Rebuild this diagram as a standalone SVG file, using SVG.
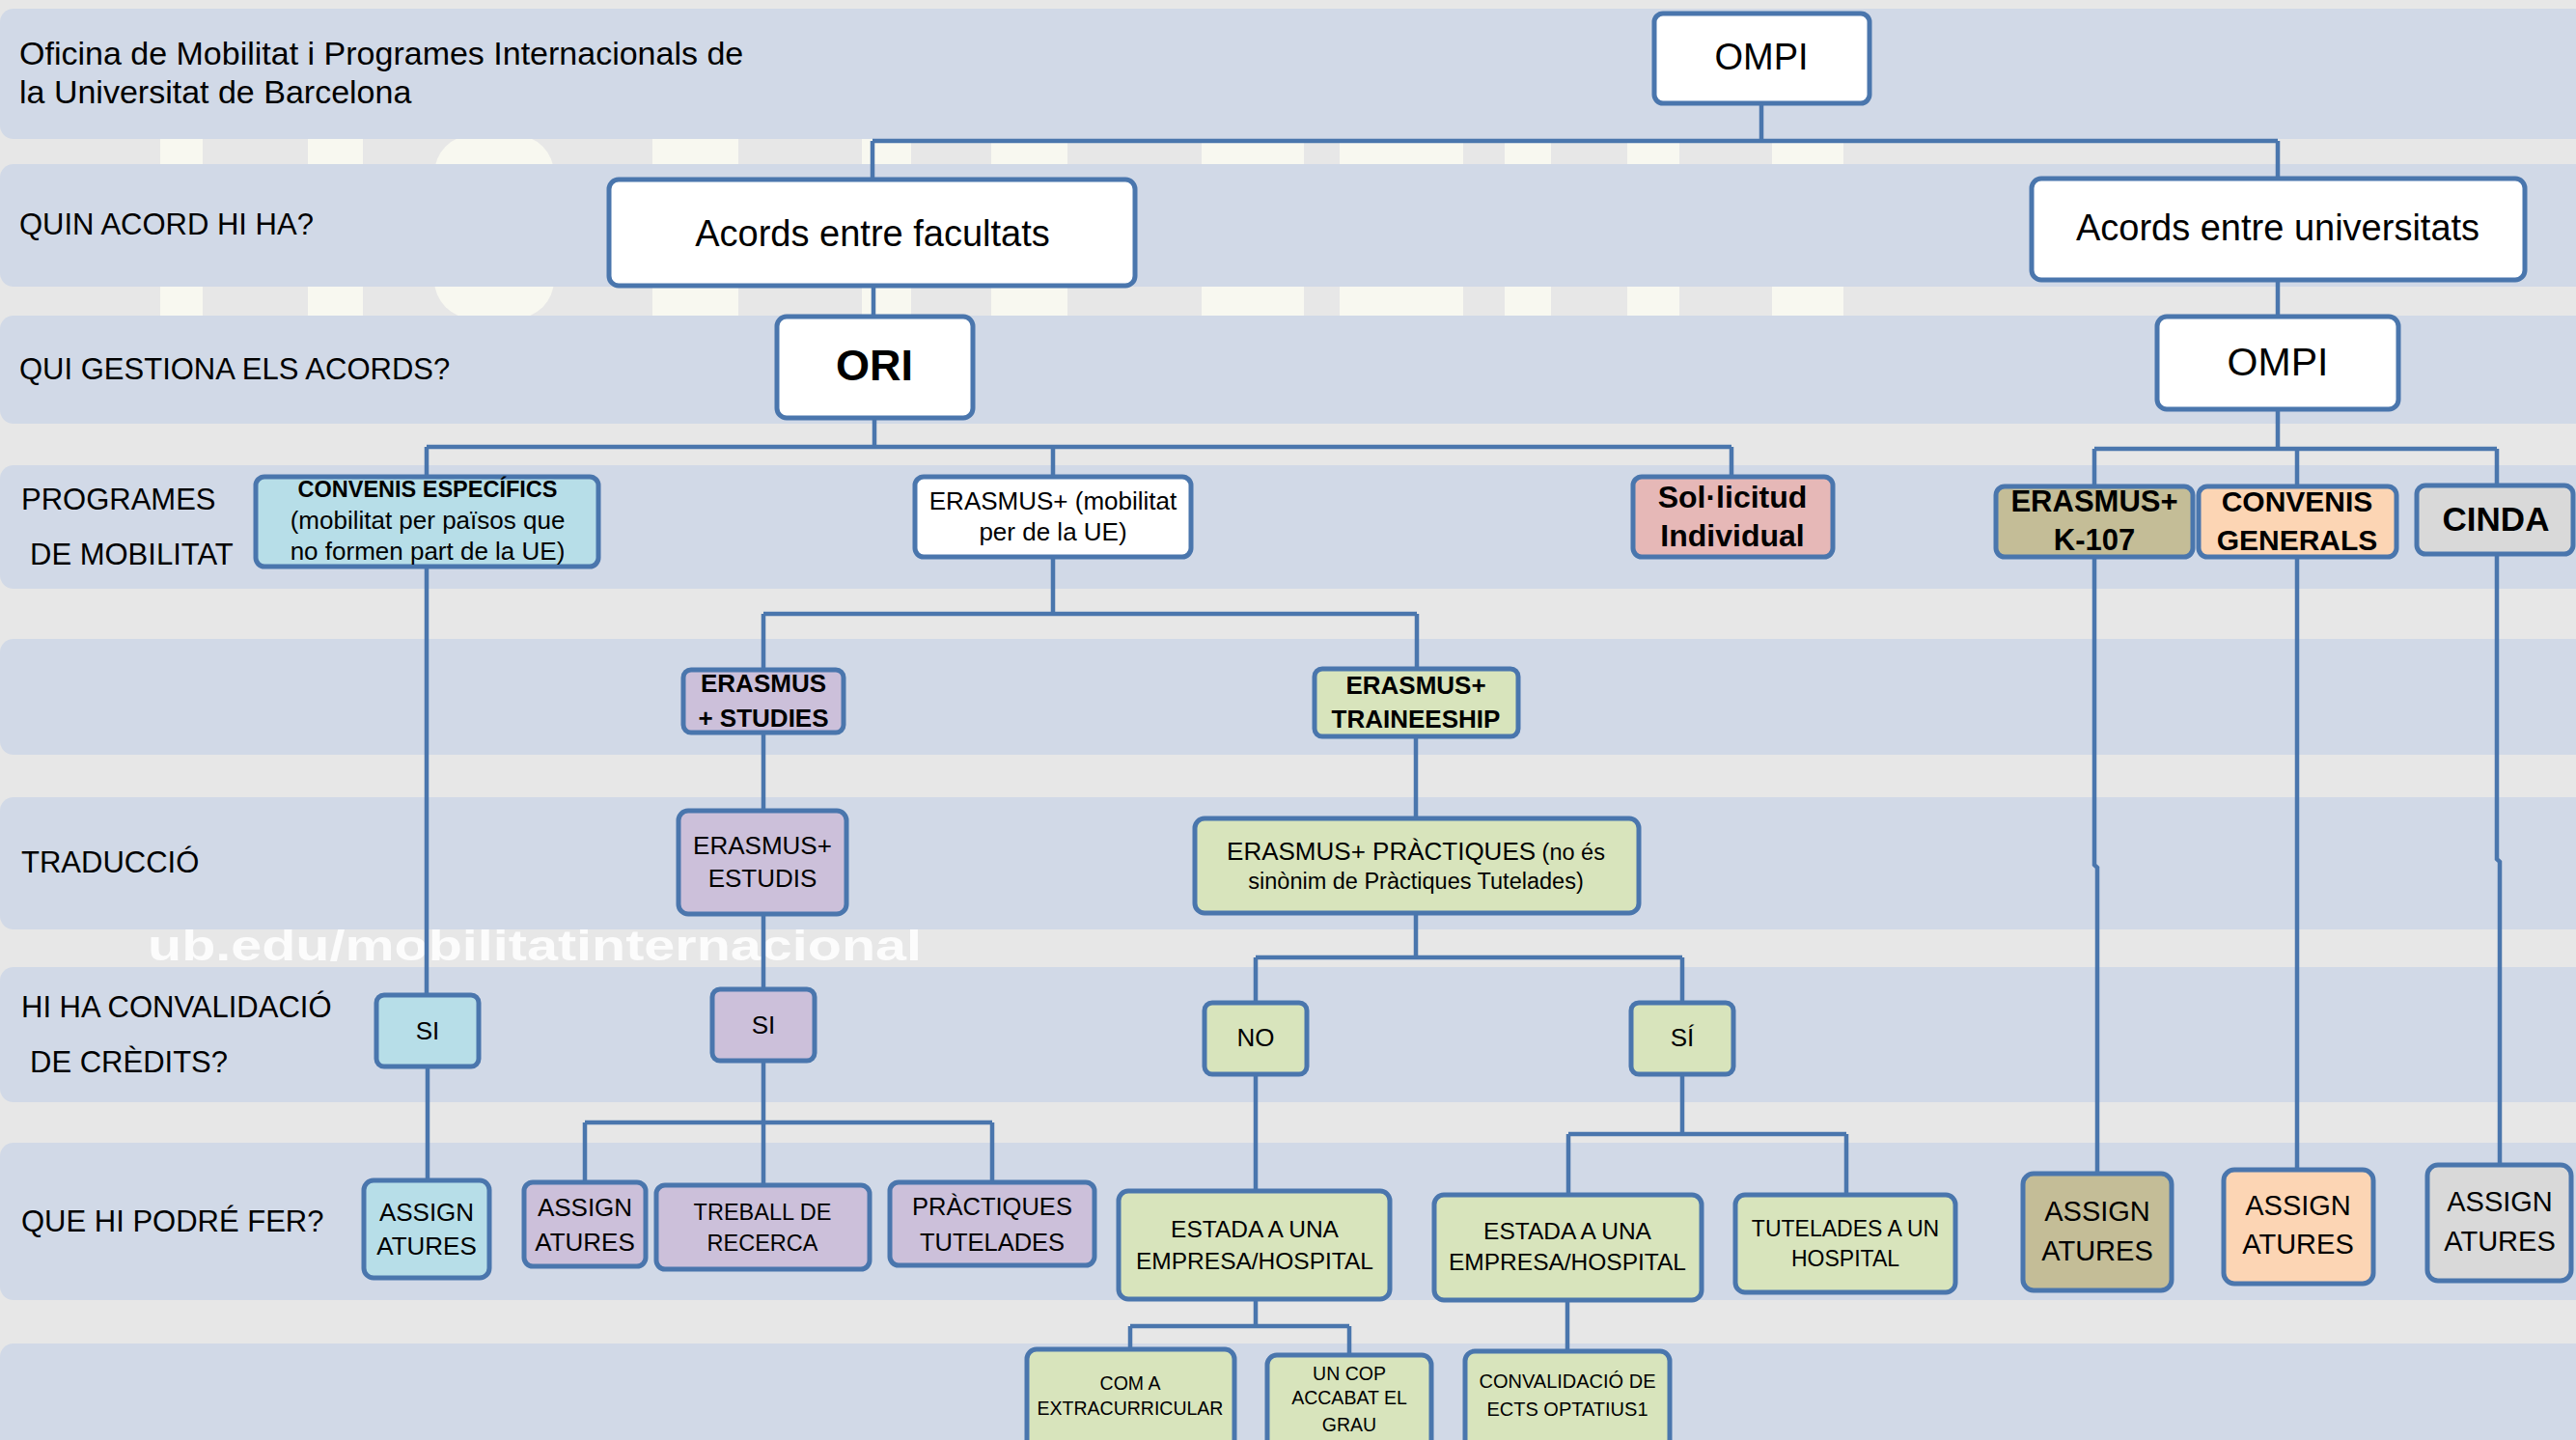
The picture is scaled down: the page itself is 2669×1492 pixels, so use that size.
<svg xmlns="http://www.w3.org/2000/svg" width="2669" height="1492" viewBox="0 0 2669 1492">
<style>
.band{fill:#D1D9E7}
.wm{fill:#F8F8F0}
.n rect{stroke:#4A76AD;stroke-width:5}
.c path{stroke:#4A76AD;stroke-width:4.5;fill:none}
text{font-family:'Liberation Sans',Arial,sans-serif;fill:#000}
.t{text-anchor:middle}
.b{font-weight:bold}
.lbl{font-size:31px}
.w{fill:#FFFFFF}.bl{fill:#B7DEE8}.pu{fill:#CCC0DA}.gr{fill:#D8E4BC}.pk{fill:#E6B8B7}.ol{fill:#C4BD97}.pe{fill:#FCD5B4}.gy{fill:#D9D9D9}
</style>
<rect x="0" y="0" width="2669" height="1492" fill="#E7E7E7"/>
<g id="watermark">
<rect class="wm" x="166" y="140" width="44" height="190"/>
<rect class="wm" x="319" y="140" width="57" height="190"/>
<rect class="wm" x="450" y="140" width="124" height="190" rx="40"/>
<rect class="wm" x="676" y="140" width="89" height="190"/>
<rect class="wm" x="893" y="140" width="51" height="190"/>
<rect class="wm" x="1027" y="140" width="79" height="190"/>
<rect class="wm" x="1245" y="140" width="106" height="190"/>
<rect class="wm" x="1388" y="140" width="128" height="190"/>
<rect class="wm" x="1559" y="140" width="48" height="190"/>
<rect class="wm" x="1686" y="140" width="54" height="190"/>
<rect class="wm" x="1836" y="140" width="74" height="190"/>
</g>
<g id="bands">
<rect class="band" x="0" y="9" width="2700" height="135" rx="14"/>
<rect class="band" x="0" y="170" width="2700" height="127" rx="14"/>
<rect class="band" x="0" y="327" width="2700" height="112" rx="14"/>
<rect class="band" x="0" y="482" width="2700" height="128" rx="14"/>
<rect class="band" x="0" y="662" width="2700" height="120" rx="14"/>
<rect class="band" x="0" y="826" width="2700" height="137" rx="14"/>
<rect class="band" x="0" y="1002" width="2700" height="140" rx="14"/>
<rect class="band" x="0" y="1184" width="2700" height="163" rx="14"/>
<rect class="band" x="0" y="1392" width="2700" height="120" rx="14"/>
</g>
<text x="153" y="995" font-size="44" font-weight="bold" fill="#FFFFFF" fill-opacity="0.85" textLength="802" lengthAdjust="spacingAndGlyphs" style="fill:#FFFFFF">ub.edu/mobilitatinternacional</text>
<g id="labels">
<text x="20" y="67" font-size="34">Oficina de Mobilitat i Programes Internacionals de</text>
<text x="20" y="107" font-size="34">la Universitat de Barcelona</text>
<text class="lbl" x="20" y="243">QUIN ACORD HI HA?</text>
<text class="lbl" x="20" y="393">QUI GESTIONA ELS ACORDS?</text>
<text class="lbl" x="22" y="528">PROGRAMES</text>
<text class="lbl" x="31" y="585">DE MOBILITAT</text>
<text class="lbl" x="22" y="904">TRADUCCIÓ</text>
<text class="lbl" x="22" y="1054">HI HA CONVALIDACIÓ</text>
<text class="lbl" x="31" y="1111">DE CRÈDITS?</text>
<text class="lbl" x="22" y="1276">QUE HI PODRÉ FER?</text>
</g>
<g class="c" id="connectors">
<path d="M1825,107V146M904,146H2360M904,146V186M2360,146V185"/>
<path d="M905,296V328"/>
<path d="M2360,290V328"/>
<path d="M906,433V463M442,463H1794M442,463V494M1091,463V494M1794,463V494"/>
<path d="M442,587V1031"/>
<path d="M443,1105V1223"/>
<path d="M1091,577V636M791,636H1468M791,636V694M1468,636V693"/>
<path d="M791,759V840"/>
<path d="M791,947V1025"/>
<path d="M791,1099V1163M606,1163H1028M606,1163V1225M791,1163V1228M1028,1163V1225"/>
<path d="M1467,763V848"/>
<path d="M1467,946V992M1301,992H1743M1301,992V1039M1743,992V1039"/>
<path d="M1301,1113V1234"/>
<path d="M1743,1113V1175M1625,1175H1913M1625,1175V1238M1913,1175V1238"/>
<path d="M1301,1346V1374M1171,1374H1398M1171,1374V1398M1398,1374V1404"/>
<path d="M1624,1347V1400"/>
<path d="M2360,424V465M2170,465H2587M2170,465V504M2380,465V504M2587,465V503"/>
<path d="M2170,577V896L2173,899V1216"/>
<path d="M2380,577V1212"/>
<path d="M2587,574V890L2590,893V1207"/>
</g>
<g class="n" id="n-ompi"><rect class="w" x="1714" y="14" width="223" height="93" rx="9"/><text class="t" x="1825" y="72" font-size="38">OMPI</text></g>
<g class="n" id="n-facultats"><rect class="w" x="631" y="186" width="545" height="110" rx="10"/><text class="t" x="904" y="255" font-size="38">Acords entre facultats</text></g>
<g class="n" id="n-universitats"><rect class="w" x="2105" y="185" width="511" height="105" rx="10"/><text class="t" x="2360" y="249" font-size="38">Acords entre universitats</text></g>
<g class="n" id="n-ori"><rect class="w" x="805" y="328" width="203" height="105" rx="10"/><text class="t b" x="906" y="394" font-size="45">ORI</text></g>
<g class="n" id="n-ompi2"><rect class="w" x="2235" y="328" width="250" height="96" rx="10"/><text class="t" x="2360" y="389" font-size="41">OMPI</text></g>
<g class="n" id="n-convenis-especifics"><rect class="bl" x="265" y="494" width="355" height="93" rx="9"/>
<text class="t b" x="443" y="515" font-size="23.5">CONVENIS ESPECÍFICS</text>
<text class="t" x="443" y="548" font-size="26">(mobilitat per països que</text>
<text class="t" x="443" y="580" font-size="26">no formen part de la UE)</text></g>
<g class="n" id="n-erasmus-ue"><rect class="w" x="948" y="494" width="286" height="83" rx="9"/>
<text class="t" x="1091" y="528" font-size="26">ERASMUS+ (mobilitat</text>
<text class="t" x="1091" y="560" font-size="26">per de la UE)</text></g>
<g class="n" id="n-sollicitud"><rect class="pk" x="1692" y="494" width="207" height="83" rx="9"/>
<text class="t b" x="1795" y="526" font-size="32">Sol·licitud</text>
<text class="t b" x="1795" y="566" font-size="32">Individual</text></g>
<g class="n" id="n-k107"><rect class="ol" x="2068" y="504" width="204" height="73" rx="9"/>
<text class="t b" x="2170" y="530" font-size="31">ERASMUS+</text>
<text class="t b" x="2170" y="570" font-size="31">K-107</text></g>
<g class="n" id="n-convenis-generals"><rect class="pe" x="2278" y="504" width="205" height="73" rx="9"/>
<text class="t b" x="2380" y="530" font-size="30">CONVENIS</text>
<text class="t b" x="2380" y="570" font-size="30">GENERALS</text></g>
<g class="n" id="n-cinda"><rect class="gy" x="2504" y="503" width="162" height="71" rx="9"/>
<text class="t b" x="2586" y="550" font-size="35">CINDA</text></g>
<g class="n" id="n-studies"><rect class="pu" x="708" y="694" width="166" height="65" rx="8"/>
<text class="t b" x="791" y="717" font-size="26">ERASMUS</text>
<text class="t b" x="791" y="753" font-size="26">+ STUDIES</text></g>
<g class="n" id="n-traineeship"><rect class="gr" x="1362" y="693" width="211" height="70" rx="8"/>
<text class="t b" x="1467" y="719" font-size="26">ERASMUS+</text>
<text class="t b" x="1467" y="754" font-size="26">TRAINEESHIP</text></g>
<g class="n" id="n-estudis"><rect class="pu" x="703" y="840" width="174" height="107" rx="10"/>
<text class="t" x="790" y="885" font-size="26">ERASMUS+</text>
<text class="t" x="790" y="919" font-size="26">ESTUDIS</text></g>
<g class="n" id="n-practiques"><rect class="gr" x="1238" y="848" width="460" height="98" rx="10"/>
<text class="t" x="1467" y="891" font-size="26">ERASMUS+ PRÀCTIQUES<tspan font-size="23.5"> (no és</tspan></text>
<text class="t" x="1467" y="921" font-size="23.5">sinònim de Pràctiques Tutelades)</text></g>
<g class="n" id="n-si1"><rect class="bl" x="390" y="1031" width="106" height="74" rx="8"/><text class="t" x="443" y="1077" font-size="26">SI</text></g>
<g class="n" id="n-si2"><rect class="pu" x="738" y="1025" width="106" height="74" rx="8"/><text class="t" x="791" y="1071" font-size="26">SI</text></g>
<g class="n" id="n-no"><rect class="gr" x="1248" y="1039" width="106" height="74" rx="8"/><text class="t" x="1301" y="1084" font-size="26">NO</text></g>
<g class="n" id="n-si3"><rect class="gr" x="1690" y="1039" width="106" height="74" rx="8"/><text class="t" x="1743" y="1084" font-size="26">SÍ</text></g>
<g class="n" id="n-assig1"><rect class="bl" x="377" y="1223" width="130" height="101" rx="10"/>
<text class="t" x="442" y="1265" font-size="26">ASSIGN</text><text class="t" x="442" y="1300" font-size="26">ATURES</text></g>
<g class="n" id="n-assig2"><rect class="pu" x="543" y="1225" width="126" height="87" rx="9"/>
<text class="t" x="606" y="1260" font-size="26">ASSIGN</text><text class="t" x="606" y="1296" font-size="26">ATURES</text></g>
<g class="n" id="n-treball"><rect class="pu" x="680" y="1228" width="221" height="87" rx="9"/>
<text class="t" x="790" y="1264" font-size="23.5">TREBALL DE</text><text class="t" x="790" y="1296" font-size="23.5">RECERCA</text></g>
<g class="n" id="n-practiques-tutelades"><rect class="pu" x="922" y="1225" width="212" height="86" rx="9"/>
<text class="t" x="1028" y="1259" font-size="25.5">PRÀCTIQUES</text><text class="t" x="1028" y="1296" font-size="25.5">TUTELADES</text></g>
<g class="n" id="n-estada1"><rect class="gr" x="1159" y="1234" width="281" height="112" rx="10"/>
<text class="t" x="1300" y="1282" font-size="24.5">ESTADA A UNA</text><text class="t" x="1300" y="1315" font-size="24.5">EMPRESA/HOSPITAL</text></g>
<g class="n" id="n-estada2"><rect class="gr" x="1486" y="1238" width="277" height="109" rx="10"/>
<text class="t" x="1624" y="1284" font-size="24.5">ESTADA A UNA</text><text class="t" x="1624" y="1316" font-size="24.5">EMPRESA/HOSPITAL</text></g>
<g class="n" id="n-tutelades-hospital"><rect class="gr" x="1798" y="1238" width="228" height="101" rx="10"/>
<text class="t" x="1912" y="1281" font-size="23">TUTELADES A UN</text><text class="t" x="1912" y="1312" font-size="23">HOSPITAL</text></g>
<g class="n" id="n-assig3"><rect class="ol" x="2096" y="1216" width="154" height="121" rx="11"/>
<text class="t" x="2173" y="1265" font-size="29">ASSIGN</text><text class="t" x="2173" y="1306" font-size="29">ATURES</text></g>
<g class="n" id="n-assig4"><rect class="pe" x="2304" y="1212" width="155" height="118" rx="11"/>
<text class="t" x="2381" y="1259" font-size="29">ASSIGN</text><text class="t" x="2381" y="1299" font-size="29">ATURES</text></g>
<g class="n" id="n-assig5"><rect class="gy" x="2515" y="1207" width="149" height="120" rx="11"/>
<text class="t" x="2590" y="1255" font-size="29">ASSIGN</text><text class="t" x="2590" y="1296" font-size="29">ATURES</text></g>
<g class="n" id="n-com-a"><rect class="gr" x="1064" y="1398" width="215" height="115" rx="10"/>
<text class="t" x="1171" y="1440" font-size="19.5">COM A</text><text class="t" x="1171" y="1466" font-size="19.5">EXTRACURRICULAR</text></g>
<g class="n" id="n-un-cop"><rect class="gr" x="1313" y="1404" width="170" height="110" rx="10"/>
<text class="t" x="1398" y="1430" font-size="19.5">UN COP</text><text class="t" x="1398" y="1455" font-size="19.5">ACCABAT EL</text><text class="t" x="1398" y="1483" font-size="19.5">GRAU</text></g>
<g class="n" id="n-convalidacio"><rect class="gr" x="1518" y="1400" width="212" height="113" rx="10"/>
<text class="t" x="1624" y="1438" font-size="20">CONVALIDACIÓ DE</text><text class="t" x="1624" y="1467" font-size="20">ECTS OPTATIUS1</text></g>
</svg>
